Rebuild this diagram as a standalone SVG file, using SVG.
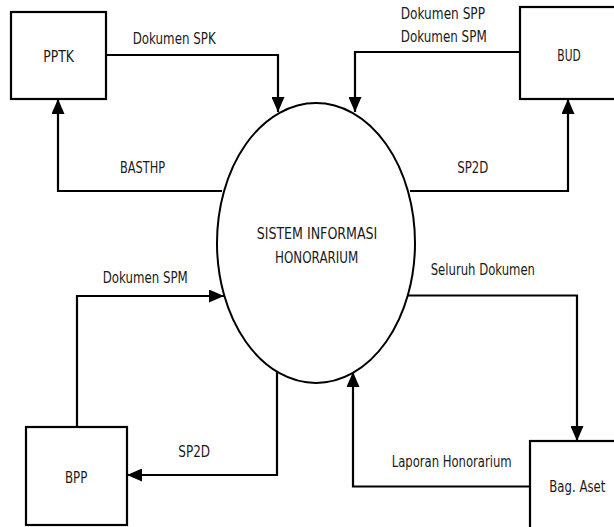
<svg xmlns="http://www.w3.org/2000/svg" width="614" height="527" viewBox="0 0 614 527">
<style>
.box{fill:#fff;stroke:#000;stroke-width:2.2}
.proc{fill:#fff;stroke:#000;stroke-width:2}
.flow{fill:none;stroke:#000;stroke-width:2.2;marker-end:url(#arr)}
.t{font-family:"DejaVu Sans","Liberation Sans",sans-serif;font-size:16px;fill:#1a1a1a}
</style>
<defs>
<marker id="arr" viewBox="0 0 15 13" markerWidth="15" markerHeight="13" refX="15" refY="6.5" orient="auto" markerUnits="userSpaceOnUse">
<path d="M0,0 L15,6.5 L0,13 z" fill="#000"/>
</marker>
</defs>
<rect width="614" height="527" fill="#fff"/>
<g id="connectors">
<path class="flow" d="M106,55 H278 V112"/>
<path class="flow" d="M222,191 H58 V99"/>
<path class="flow" d="M520,52 H355 V112"/>
<path class="flow" d="M410,191 H568 V99"/>
<path class="flow" d="M77,427 V296 H224"/>
<path class="flow" d="M277,372 V475 H127"/>
<path class="flow" d="M408,295.5 H577 V441"/>
<path class="flow" d="M530,486.5 H353 V372"/>
<text class="t" x="132.7" y="44" textLength="83" lengthAdjust="spacingAndGlyphs">Dokumen SPK</text>
<text class="t" x="120" y="173.3" textLength="45" lengthAdjust="spacingAndGlyphs">BASTHP</text>
<text class="t" x="400.7" y="18.5" textLength="84.3" lengthAdjust="spacingAndGlyphs">Dokumen SPP</text>
<text class="t" x="400.7" y="41.7" textLength="86" lengthAdjust="spacingAndGlyphs">Dokumen SPM</text>
<text class="t" x="457.3" y="173.3" textLength="31" lengthAdjust="spacingAndGlyphs">SP2D</text>
<text class="t" x="102.7" y="283.3" textLength="85" lengthAdjust="spacingAndGlyphs">Dokumen SPM</text>
<text class="t" x="178.3" y="457.3" textLength="31.7" lengthAdjust="spacingAndGlyphs">SP2D</text>
<text class="t" x="430.7" y="275" textLength="104.3" lengthAdjust="spacingAndGlyphs">Seluruh Dokumen</text>
<text class="t" x="391.7" y="466.7" textLength="120" lengthAdjust="spacingAndGlyphs">Laporan Honorarium</text>
</g>
<g id="pptk">
<rect class="box" x="11" y="12" width="95" height="87"/>
<text class="t" x="43.3" y="62" textLength="30.7" lengthAdjust="spacingAndGlyphs">PPTK</text>
</g>
<g id="bud">
<rect class="box" x="520" y="7" width="100" height="92"/>
<text class="t" x="557.3" y="61" textLength="23.4" lengthAdjust="spacingAndGlyphs">BUD</text>
</g>
<g id="bpp">
<rect class="box" x="26" y="427" width="101" height="98"/>
<text class="t" x="65" y="482.7" textLength="22.3" lengthAdjust="spacingAndGlyphs">BPP</text>
</g>
<g id="bag-aset">
<rect class="box" x="530" y="441" width="100" height="100"/>
<text class="t" x="549.3" y="492" textLength="56" lengthAdjust="spacingAndGlyphs">Bag. Aset</text>
</g>
<g id="sistem">
<ellipse class="proc" cx="316" cy="243" rx="99" ry="140"/>
<text class="t" x="256.7" y="239" textLength="120.6" lengthAdjust="spacingAndGlyphs">SISTEM INFORMASI</text>
<text class="t" x="275" y="262.7" textLength="83.3" lengthAdjust="spacingAndGlyphs">HONORARIUM</text>
</g>
</svg>
